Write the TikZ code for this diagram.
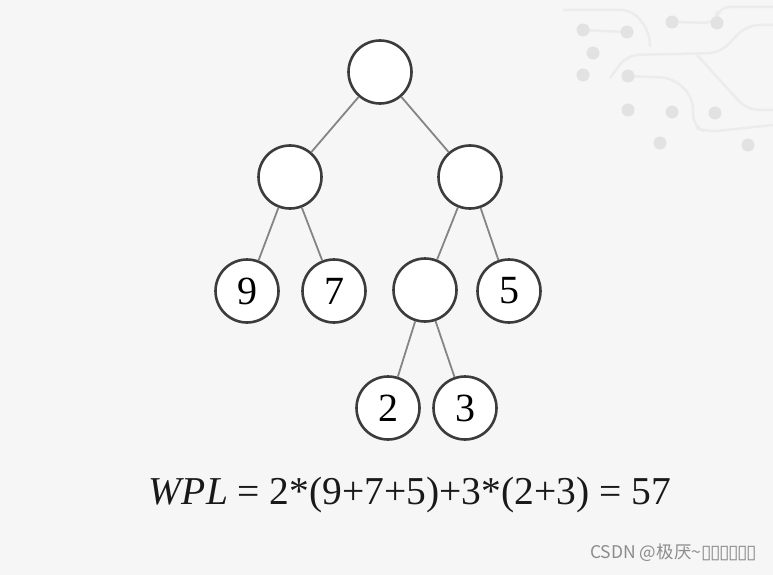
\documentclass[tikz,border=0pt]{standalone}
\usepackage{fontspec}
\setmainfont{Liberation Serif}
\newfontfamily\cjkfont{Noto Sans CJK SC}
\newfontfamily\boxfont{DejaVu Sans}
\usetikzlibrary{calc}
\definecolor{bgcol}{HTML}{F6F6F6}
\definecolor{ringcol}{HTML}{3C3C3C}
\definecolor{edgecol}{HTML}{858585}
\definecolor{tracecol}{HTML}{ECECEC}
\definecolor{padcol}{HTML}{E2E2E2}
\tikzset{treenode/.style={circle, draw=ringcol, line width=2.6pt, fill=white,
    minimum size=63pt, inner sep=0pt, font=\fontsize{40}{40}\selectfont},
  treeedge/.style={draw=edgecol, line width=1.8pt},
  trace/.style={draw=tracecol, line width=2.5pt, rounded corners=12pt},
  pad/.style={fill=padcol}}

\begin{document}
\begin{tikzpicture}[x=1pt,y=-1pt]
  \fill[bgcol] (0,0) rectangle (773,575);
  \useasboundingbox (0,0) rectangle (773,575);
  % circuit pattern, top right
  \draw[trace] (563,10) -- (633,10) -- (650,33) -- (650,47);
  \draw[trace] (583,30) -- (627,32);
  \draw[trace] (672,22) -- (717,23) -- (717,7) -- (773,7);
  \draw[trace] (773,25) -- (747,25) -- (720,53) -- (627,55) -- (610,78);
  \draw[trace] (697,55) -- (747,110) -- (773,110);
  \draw[trace] (628,76) -- (673,78) -- (693,97) -- (693,127) -- (707,132) -- (773,125);
  \foreach \px/\py in {583/30, 627/32, 672/22, 717/23, 593/53, 583/75, 628/76,
      628/110, 672/112, 715/113, 660/143, 748/145}
    \fill[pad] (\px,\py) circle (6.5pt);
  % tree
  \node[treenode] (root) at (380,72) {};
  \node[treenode] (l) at (290,177) {};
  \node[treenode] (r) at (470,177) {};
  \node[treenode] (n9) at (247,291) {9};
  \node[treenode] (n7) at (334,291) {7};
  \node[treenode] (rl) at (425,290) {};
  \node[treenode] (n5) at (509,291) {5};
  \node[treenode] (n2) at (388,408) {2};
  \node[treenode] (n3) at (465,408) {3};
  \draw[treeedge] (root) -- (l);
  \draw[treeedge] (root) -- (r);
  \draw[treeedge] (l) -- (n9);
  \draw[treeedge] (l) -- (n7);
  \draw[treeedge] (r) -- (rl);
  \draw[treeedge] (r) -- (n5);
  \draw[treeedge] (rl) -- (n2);
  \draw[treeedge] (rl) -- (n3);
  % formula
  \node[font=\fontsize{39.5}{40}\selectfont, text=black!90] (wpl) at (410,495)
    {\textit{WPL} = 2*(9+7+5)+3*(2+3) = 57};
  % watermark
  \node[anchor=east, text=black!45, font=\fontsize{17.5}{18}\selectfont\cjkfont] (mark) at (760,553)
    {CSDN @极厌\textasciitilde{\boxfont\fontsize{19}{19}\selectfont ▯\kern-1.5pt▯\kern-1.5pt▯\kern-1.5pt▯\kern-1.5pt▯\kern-1.5pt▯}};
\end{tikzpicture}
\end{document}
